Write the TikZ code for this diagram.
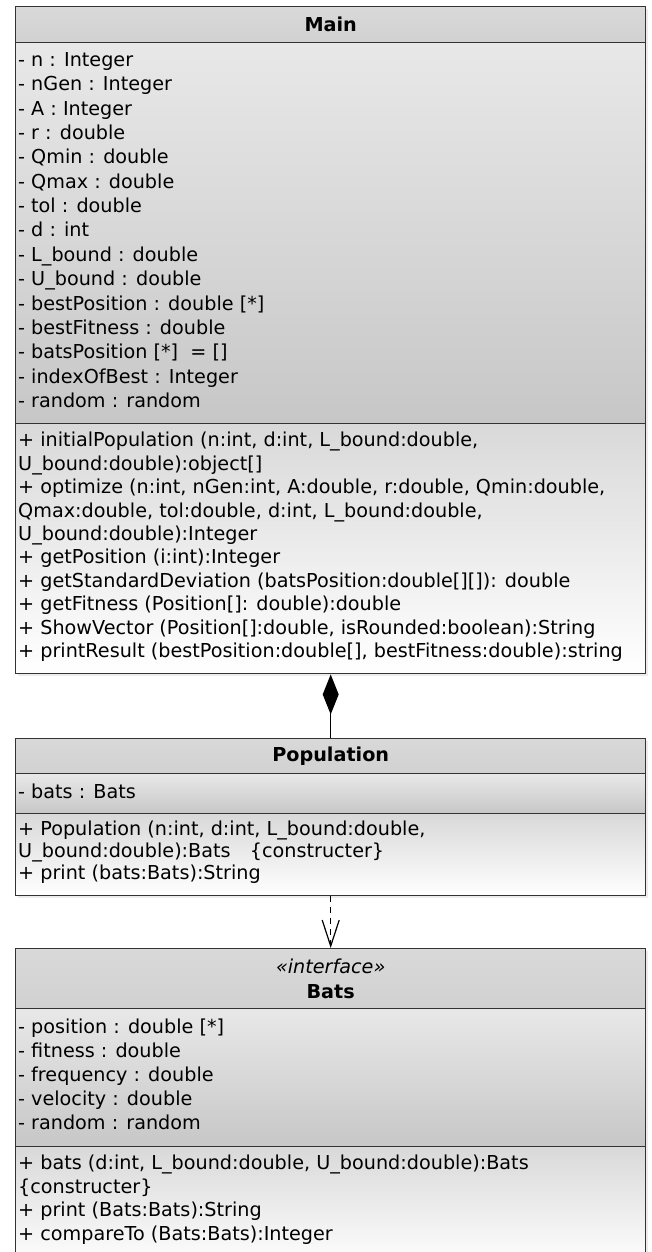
\documentclass[tikz,border=0pt]{standalone}
\usepackage{fontspec}
\setmainfont{DejaVu Sans}
\usetikzlibrary{
  arrows.meta,
  positioning,
  shadows,
}
\newcommand{\umlfont}[1]{\fontsize{19.2}{#1}\selectfont}
\tikzset{
  font=\umlfont{24},
  semithick,
  compartment/.style={
    draw=black!80,
    line width=1.4pt,
    minimum width=630pt,
    inner sep=0pt,
    anchor=north west,
    drop shadow={shadow xshift=2pt,shadow yshift=-2pt,opacity=.15}
  },
  header/.style={
    compartment,
    top color=black!15,
    bottom color=black!18,
    align=center
  },
  fields/.style={
    compartment,
    top color=black!9,
    bottom color=black!22
  },
  operations/.style={
    compartment,
    top color=black!15,
    bottom color=white
  },
  % base of a multi-line node = baseline of its last line
  members/.style={
    anchor=base west,
    align=left,
    inner sep=0pt
  },
  composition/.style={
    -{Diamond[length=40pt,width=16pt]},
    line width=1.3pt
  },
  dependency/.style={
    -{Straight Barb[length=26pt,width=17pt]},
    dash pattern=on 6pt off 5pt,
    line width=1.2pt
  }
}

\begin{document}
\begin{tikzpicture}[x=1pt,y=-1pt]
\useasboundingbox (0,0) rectangle (651,1252);
% Main
\node[header,minimum height=36pt]     (mainH) at (15,6)   {\bfseries Main};
\node[fields,minimum height=381pt]    (mainA) at (15,42)  {};
\node[operations,minimum height=250pt](mainM) at (15,423) {};
\node[members,font=\umlfont{24.36}] (mainAT) at (18,407.5) {%
- n : Integer\\
- nGen : Integer\\
- A : Integer\\
- r : double\\
- Qmin : double\\
- Qmax : double\\
- tol : double\\
- d : int\\
- L\_bound : double\\
- U\_bound : double\\
- bestPosition : double [*]\\
- bestFitness : double\\
- batsPosition [*]\ \ = []\\
- indexOfBest : Integer\\
- random : random};
\node[members,font=\umlfont{23.4}] (mainMT) at (18,657.5) {%
+ initialPopulation (n:int, d:int, L\_bound:double,\\
U\_bound:double):object[]\\
+ optimize (n:int, nGen:int, A:double, r:double, Qmin:double,\\
Qmax:double, tol:double, d:int, L\_bound:double,\\
U\_bound:double):Integer\\
+ getPosition (i:int):Integer\\
+ getStandardDeviation (batsPosition:double[][]): double\\
+ getFitness (Position[]: double):double\\
+ ShowVector (Position[]:double, isRounded:boolean):String\\
+ printResult (bestPosition:double[], bestFitness:double):string};

% Population
\node[header,minimum height=35pt]     (popH) at (15,738) {\bfseries Population};
\node[fields,minimum height=40pt]     (popA) at (15,773) {};
\node[operations,minimum height=82pt] (popM) at (15,813) {};
\node[members] (popAT) at (18,798.5) {- bats : Bats};
\node[members,font=\umlfont{22}] (popMT) at (18,879.5) {%
+ Population (n:int, d:int, L\_bound:double,\\
U\_bound:double):Bats\quad\{constructer\}\\
+ print (bats:Bats):String};

% Bats
\node[header,minimum height=60pt,font=\umlfont{25}] (batsH) at (15,948)
  {{\itshape «interface»}\\{\bfseries Bats}};
\node[fields,minimum height=138pt]     (batsA) at (15,1008) {};
\node[operations,minimum height=120pt] (batsM) at (15,1146) {};
\node[members] (batsAT) at (18,1129.5) {%
- position : double [*]\\
- fitness : double\\
- frequency : double\\
- velocity : double\\
- random : random};
\node[members,font=\umlfont{23.7}] (batsMT) at (18,1240.5) {%
+ bats (d:int, L\_bound:double, U\_bound:double):Bats\\
\{constructer\}\\
+ print (Bats:Bats):String\\
+ compareTo (Bats:Bats):Integer};

\draw[composition] (popH.north) -- (mainM.south);
\draw[dependency]  (popM.south) -- (batsH.north);
\end{tikzpicture}
\end{document}
